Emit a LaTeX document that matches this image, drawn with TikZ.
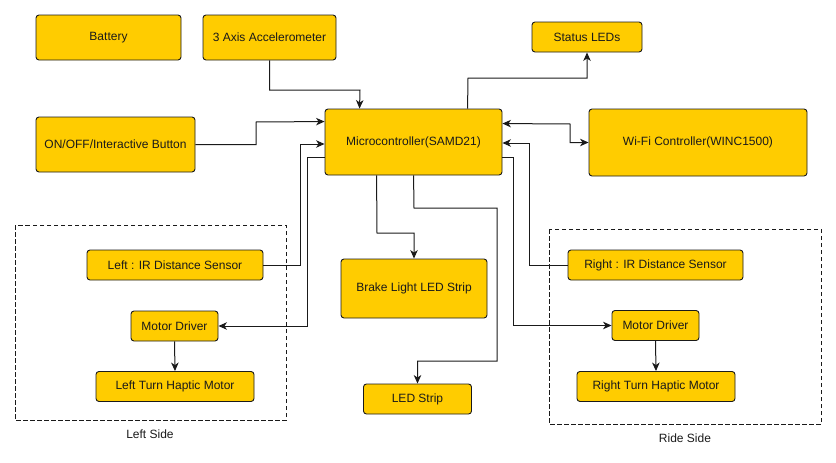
\documentclass[tikz,border=0pt]{standalone}
\usepackage{fontspec}
\setmainfont{Liberation Sans}
\usetikzlibrary{arrows.meta,calc}
\definecolor{boxfill}{HTML}{FFCC00}
\definecolor{ink}{HTML}{1A1A1A}
\tikzset{
  blk/.style={draw=ink, fill=boxfill, rounded corners=3pt, line width=0.9pt, inner sep=0pt,
              font=\fontsize{12}{14}\selectfont, text=ink},
  arr/.style={draw=ink, line width=1pt, -{Stealth[length=8.5pt,width=7.5pt,inset=2.5pt]}},
  darr/.style={draw=ink, line width=1pt, {Stealth[length=8.5pt,width=7.5pt,inset=2.5pt]}-{Stealth[length=8.5pt,width=7.5pt,inset=2.5pt]}},
  grp/.style={draw=ink, line width=0.9pt, dash pattern=on 4.5pt off 2.5pt},
  lbl/.style={font=\fontsize{12}{14}\selectfont, text=ink, inner sep=0pt}
}
\begin{document}
\begin{tikzpicture}[x=1pt,y=-1pt]
\useasboundingbox (0,0) rectangle (836,463);
% group frames
\draw[grp] (15,225) rectangle (286,420);
\draw[grp] (549,229) rectangle (821,424);
\node[lbl] (lside) at (150,434) {Left Side};
\node[lbl] (rside) at (685,438) {Ride Side};
% blocks
\node[blk, minimum width=145, minimum height=45] (bat) at (108.5,37.5) {Battery};
\node[blk, minimum width=133, minimum height=45] (acc) at (269.5,37.5) {3 Axis Accelerometer};
\node[blk, minimum width=110, minimum height=30] (status) at (587,37) {Status LEDs};
\node[blk, minimum width=159, minimum height=55] (onoff) at (115.5,144.5) {ON/OFF/Interactive Button};
\node[blk, minimum width=177, minimum height=66] (mcu) at (413.5,142) {Microcontroller(SAMD21)};
\node[blk, minimum width=218, minimum height=67] (wifi) at (698,142.5) {Wi-Fi Controller(WINC1500)};
\node[blk, minimum width=176, minimum height=30] (lir) at (175,265) {Left : IR Distance Sensor};
\node[blk, minimum width=87, minimum height=30] (lmd) at (174.5,326) {Motor Driver};
\node[blk, minimum width=158, minimum height=30] (lhm) at (175,386.5) {Left Turn Haptic Motor};
\node[blk, minimum width=175, minimum height=30] (rir) at (655.5,265) {Right : IR Distance Sensor};
\node[blk, minimum width=87, minimum height=30] (rmd) at (655.5,325.5) {Motor Driver};
\node[blk, minimum width=158, minimum height=30] (rhm) at (656,386.5) {Right Turn Haptic Motor};
\node[blk, minimum width=146, minimum height=59] (brake) at (414,288.5) {Brake Light LED Strip};
\node[blk, minimum width=108, minimum height=30] (led) at (417.5,399) {LED Strip};
% connectors
\draw[arr] (acc.south) -- (269.5,90) -- (360,90) -- ($(mcu.north west)+(35,0)$);
\draw[arr] (onoff.east) -- (256,144.5) -- (256,122) -- ($(mcu.north west)+(0,13)$);
\draw[arr] (lir.east) -- (300,265) -- (300,144) -- ($(mcu.west)+(0,2)$);
\draw[arr] ($(mcu.west)+(0,15)$) -- (307,157) -- (307,326) -- (lmd.east);
\draw[arr] ($(mcu.south west)+(52,0)$) -- (377,233) -- (414,233) -- (brake.north);
\draw[arr] ($(mcu.south west)+(89,0)$) -- (414,208) -- (497,208) -- (497,361) -- (417.5,361) -- (led.north);
\draw[arr] ($(mcu.north west)+(143,0)$) -- (468,78) -- (587,78) -- (status.south);
\draw[darr] ($(mcu.north east)+(0,15)$) -- (570,124) -- (570,142.5) -- (wifi.west);
\draw[arr] (rir.west) -- (529,265) -- (529,143) -- ($(mcu.east)+(0,1)$);
\draw[arr] ($(mcu.east)+(0,15)$) -- (513,157) -- (513,325.5) -- (rmd.west);
\draw[arr] (lmd.south) -- (lhm.north);
\draw[arr] (rmd.south) -- (rhm.north);
\end{tikzpicture}
\end{document}
